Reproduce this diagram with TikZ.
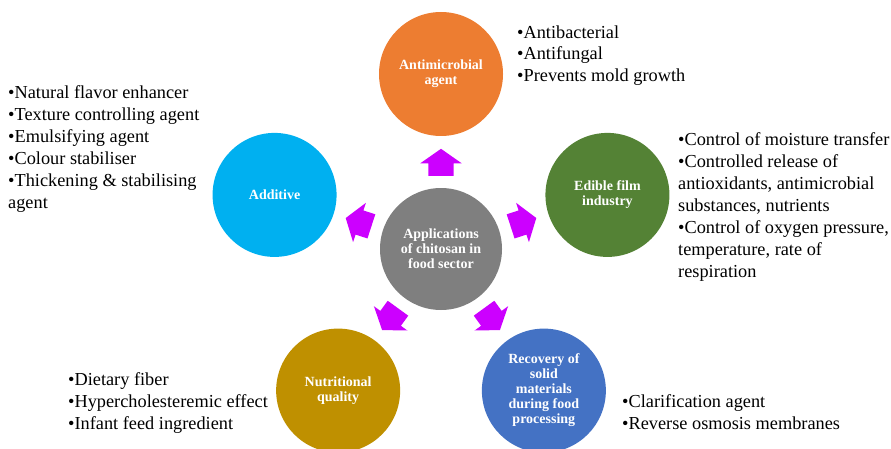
\documentclass[tikz,border=0pt]{standalone}
\usepackage{fontspec}
\setmainfont{Liberation Serif}
\usetikzlibrary{shapes.arrows,calc}
\definecolor{naranja}{HTML}{ED7D31}
\definecolor{verde}{HTML}{548235}
\definecolor{celeste}{HTML}{00B0F0}
\definecolor{dorado}{HTML}{BF9000}
\definecolor{azul}{HTML}{4472C4}
\definecolor{gris}{HTML}{7F7F7F}
\definecolor{magenta}{HTML}{CC00FF}
\tikzstyle{tema} = [circle, minimum size=124pt, inner sep=0pt, align=center, text=white, font=\fontsize{14}{15}\selectfont\bfseries]
\tikzstyle{flecha} = [single arrow, fill=magenta, minimum height=27pt, single arrow head extend=8pt, single arrow tip angle=110, inner xsep=0pt, inner ysep=12.5pt]
\tikzstyle{lista} = [align=left, inner sep=0pt, anchor=base west, font=\fontsize{18.3}{22}\selectfont]

\begin{document}
\begin{tikzpicture}[x=1pt,y=1pt]
	\useasboundingbox (0,0) rectangle (891,448);
	\node[tema, fill=gris, minimum size=122pt](hub) at (441,199){Applications\\of chitosan in\\food sector};
	\node[tema, fill=naranja](amb) at ($(hub)+(90:175pt)$){Antimicrobial\\agent};
	\node[tema, fill=verde](film) at ($(hub)+(18:175pt)$){Edible film\\industry};
	\node[tema, fill=celeste](add) at ($(hub)+(162:175pt)$){Additive};
	\node[tema, fill=dorado](nut) at ($(hub)+(234:175pt)$){Nutritional\\quality};
	\node[tema, fill=azul](rec) at ($(hub)+(306:175pt)$){Recovery of\\solid\\materials\\during food\\processing};
	% flechas
	\node[flecha, rotate=90] (f1) at ($(hub)!0.47!(amb)$){};
	\node[flecha, rotate=18] (f2) at ($(hub)!0.47!(film)$){};
	\node[flecha, rotate=162] (f3) at ($(hub)!0.47!(add)$){};
	\node[flecha, rotate=234] (f4) at ($(hub)!0.47!(nut)$){};
	\node[flecha, rotate=306] (f5) at ($(hub)!0.47!(rec)$){};
	% listas
	\node[lista] (l1) at (517,366){•Antibacterial\\•Antifungal\\•Prevents mold growth};
	\node[lista] (l2) at (8,240){•Natural flavor enhancer\\•Texture controlling agent\\•Emulsifying agent\\•Colour stabiliser\\•Thickening \& stabilising\\agent};
	\node[lista] (l3) at (678,171){•Control of moisture transfer\\•Controlled release of\\antioxidants, antimicrobial\\substances, nutrients\\•Control of oxygen pressure,\\temperature, rate of\\respiration};
	\node[lista] (l4) at (68,19){•Dietary fiber\\•Hypercholesteremic effect\\•Infant feed ingredient};
	\node[lista] (l5) at (622,19){•Clarification agent\\•Reverse osmosis membranes};
\end{tikzpicture}
\end{document}
